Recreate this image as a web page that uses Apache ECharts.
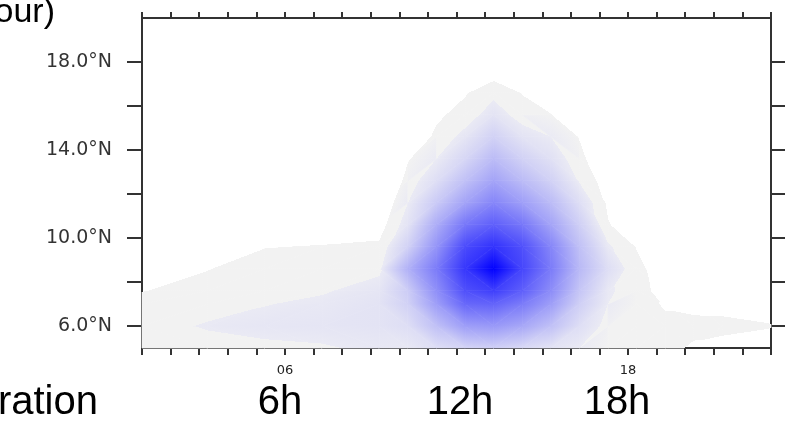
<!DOCTYPE html>
<html>
<head>
<meta charset="utf-8">
<script src="https://cdn.jsdelivr.net/npm/echarts@6/dist/echarts.min.js"></script>
<style>
html, body { margin: 0; padding: 0; background: #fff; }
#chart { width: 785px; height: 429px; }
</style>
</head>
<body>
<div id="chart"></div>
<script>
// grid of the field: hours (local time) and latitudes (°N)
var hours = [1, 3.3, 5.3, 7.3, 9.3, 10.3, 11.3, 12.3, 13.3, 14.3, 15.3, 16.3, 17.3, 18.3, 19.3, 20.3, 21.3, 23];
var lats = [5, 6, 7, 7.6, 8.6, 9.6, 10.6, 11.6, 12.6, 13.6, 14.6, 15.6, 16.6, 17.6, 18.6, 20];

// normalised rain rate, one row per latitude (below 0 = not shaded)
var rainRate = [
    [0.03, 0.03, 0.04, 0.045, 0.06, 0.06, 0.1, 0.14, 0.16, 0.12, 0.08, 0.05, 0.02, 0.015, 0.01, -0.005, -0.01, -0.02],
    [0.03, 0.055, 0.065, 0.07, 0.08, 0.1, 0.22, 0.36, 0.38, 0.32, 0.22, 0.1, 0.03, 0.02, 0.01, 0.01, 0.008, 0.002],
    [0.02, 0.03, 0.048, 0.06, 0.08, 0.15, 0.36, 0.58, 0.6, 0.5, 0.36, 0.16, 0.05, 0.02, -0.005, -0.01, -0.01, -0.02],
    [-0.002, 0.02, 0.04, 0.045, 0.07, 0.17, 0.42, 0.68, 0.75, 0.62, 0.43, 0.2, 0.06, 0.02, -0.02, -0.03, -0.03, -0.05],
    [-0.05, -0.002, 0.025, 0.03, 0.04, 0.28, 0.5, 0.78, 1.0, 0.72, 0.5, 0.25, 0.1, 0.015, -0.03, -0.1, -0.1, -0.1],
    [-0.1, -0.06, -0.002, 0.003, 0.01, 0.15, 0.4, 0.7, 0.8, 0.68, 0.46, 0.22, 0.06, -0.003, -0.06, -0.1, -0.1, -0.1],
    [-0.1, -0.1, -0.05, -0.03, -0.025, 0.08, 0.3, 0.52, 0.62, 0.52, 0.34, 0.16, 0.004, -0.04, -0.1, -0.1, -0.1, -0.1],
    [-0.1, -0.1, -0.1, -0.1, -0.05, 0.05, 0.18, 0.34, 0.46, 0.36, 0.24, 0.1, -0.01, -0.05, -0.1, -0.1, -0.1, -0.1],
    [-0.1, -0.1, -0.1, -0.1, -0.08, 0.02, 0.1, 0.22, 0.34, 0.24, 0.15, 0.045, -0.03, -0.1, -0.1, -0.1, -0.1, -0.1],
    [-0.1, -0.1, -0.1, -0.1, -0.1, -0.005, 0.05, 0.13, 0.24, 0.15, 0.09, 0.015, -0.05, -0.1, -0.1, -0.1, -0.1, -0.1],
    [-0.1, -0.1, -0.1, -0.1, -0.1, -0.05, 0.012, 0.07, 0.15, 0.08, 0.05, -0.003, -0.06, -0.1, -0.1, -0.1, -0.1, -0.1],
    [-0.1, -0.1, -0.1, -0.1, -0.1, -0.1, -0.01, 0.02, 0.08, 0.025, 0.002, -0.05, -0.1, -0.1, -0.1, -0.1, -0.1, -0.1],
    [-0.1, -0.1, -0.1, -0.1, -0.1, -0.1, -0.05, -0.005, 0.035, -0.003, -0.04, -0.1, -0.1, -0.1, -0.1, -0.1, -0.1, -0.1],
    [-0.1, -0.1, -0.1, -0.1, -0.1, -0.1, -0.1, -0.04, -0.03, -0.04, -0.1, -0.1, -0.1, -0.1, -0.1, -0.1, -0.1, -0.1],
    [-0.1, -0.1, -0.1, -0.1, -0.1, -0.1, -0.1, -0.1, -0.1, -0.1, -0.1, -0.1, -0.1, -0.1, -0.1, -0.1, -0.1, -0.1],
    [-0.1, -0.1, -0.1, -0.1, -0.1, -0.1, -0.1, -0.1, -0.1, -0.1, -0.1, -0.1, -0.1, -0.1, -0.1, -0.1, -0.1, -0.1]
];

var tickLats = [6, 8, 10, 12, 14, 16, 18];
var labelLats = [6, 10, 14, 18];
var labelHours = [6, 18];

// shading: flat grey lowest level, then grey-blue ramp up to pure blue
var greyTop = 0.05;

function colorAt(v) {
    if (v < 0) return 'rgba(255,255,255,0)';
    if (v < greyTop) return 'rgb(242,242,242)';
    var t = Math.min(1, (v - greyTop) / (1 - greyTop));
    var r = Math.round(234 * (1 - t));
    var b = Math.round(244 + 11 * t);
    return 'rgb(' + r + ',' + r + ',' + b + ')';
}

// split every grid cell in two triangles
var triangles = [];
for (var j = 0; j < lats.length - 1; j++) {
    for (var i = 0; i < hours.length - 1; i++) {
        var A = [hours[i], lats[j], rainRate[j][i]];
        var B = [hours[i + 1], lats[j], rainRate[j][i + 1]];
        var C = [hours[i + 1], lats[j + 1], rainRate[j + 1][i + 1]];
        var D = [hours[i], lats[j + 1], rainRate[j + 1][i]];
        var tris = Math.abs(A[2] - C[2]) <= Math.abs(B[2] - D[2])
            ? [[A, B, C], [A, C, D]]
            : [[A, B, D], [B, C, D]];
        tris.forEach(function (t) {
            if (Math.max(t[0][2], t[1][2], t[2][2]) >= 0) {
                triangles.push(t[0].concat(t[1], t[2]));
            }
        });
    }
}

function shade(p, v) {
    var vmin = Math.min(v[0], v[1], v[2]);
    var vmax = Math.max(v[0], v[1], v[2]);
    var span = vmax - vmin;
    if (span < 1e-9) return colorAt(vmin);
    var d1x = p[1][0] - p[0][0], d1y = p[1][1] - p[0][1];
    var d2x = p[2][0] - p[0][0], d2y = p[2][1] - p[0][1];
    var dv1 = v[1] - v[0], dv2 = v[2] - v[0];
    var det = d1x * d2y - d1y * d2x;
    if (Math.abs(det) < 1e-9) return colorAt(vmin);
    var a = (dv1 * d2y - dv2 * d1y) / det;
    var b = (d1x * dv2 - d2x * dv1) / det;
    var g2 = a * a + b * b;
    var k = v.indexOf(vmin);
    var sx = p[k][0], sy = p[k][1];
    var ex = sx + a * span / g2, ey = sy + b * span / g2;
    var stops = [{offset: 0, color: colorAt(vmin)}];
    [0, greyTop].forEach(function (e) {
        if (e > vmin && e < vmax) {
            var o = (e - vmin) / span;
            stops.push({offset: o, color: colorAt(e - 1e-6)});
            stops.push({offset: o, color: colorAt(e)});
        }
    });
    stops.push({offset: 1, color: colorAt(vmax)});
    return new echarts.graphic.LinearGradient(sx, sy, ex, ey, stops, true);
}

function renderTriangle(params, api) {
    var pts = [], vals = [];
    for (var n = 0; n < 3; n++) {
        pts.push(api.coord([api.value(n * 3), api.value(n * 3 + 1)]));
        vals.push(api.value(n * 3 + 2));
    }
    var fill = shade(pts, vals);
    return {
        type: 'polygon',
        shape: {points: pts},
        style: {fill: fill, stroke: fill, lineWidth: 0.7, lineJoin: 'round'}
    };
}

var frameColor = '#333';
var labelFont = 'DejaVu Sans';
var bigFont = '40px "Liberation Sans"';

var myChart = echarts.init(document.getElementById('chart'));

var option = {
    backgroundColor: '#fff',
    animation: false,
    grid: {left: 142, right: 14, top: 18, bottom: 81, containLabel: false},

    xAxis: [{
        type: 'value',
        position: 'bottom',
        min: 1,
        max: 23,
        interval: 1,
        axisLine: {show: true, onZero: false, lineStyle: {color: frameColor, width: 2}},
        axisTick: {show: true, inside: false, length: 7, lineStyle: {color: frameColor, width: 2}},
        axisLabel: {
            customValues: labelHours,
            margin: 16,
            fontFamily: labelFont,
            fontSize: 13,
            color: '#222',
            formatter: function (v) { return (v < 10 ? '0' : '') + v; }
        },
        splitLine: {show: false}
    }, {
        type: 'value',
        position: 'top',
        min: 1,
        max: 23,
        interval: 1,
        axisLine: {show: true, onZero: false, lineStyle: {color: frameColor, width: 2}},
        axisTick: {show: true, inside: false, length: 6, lineStyle: {color: frameColor, width: 2}},
        axisLabel: {show: false},
        splitLine: {show: false}
    }],

    yAxis: [{
        type: 'value',
        position: 'left',
        min: 5,
        max: 20,
        axisLine: {show: true, onZero: false, lineStyle: {color: frameColor, width: 2}},
        axisTick: {show: true, inside: false, length: 15, customValues: tickLats, lineStyle: {color: frameColor, width: 2}},
        axisLabel: {
            customValues: labelLats,
            margin: 30,
            fontFamily: labelFont,
            fontSize: 19,
            color: '#333',
            formatter: function (v) { return v.toFixed(1) + '°N'; }
        },
        splitLine: {show: false}
    }, {
        type: 'value',
        position: 'right',
        min: 5,
        max: 20,
        axisLine: {show: true, onZero: false, lineStyle: {color: frameColor, width: 2}},
        axisTick: {show: true, inside: false, length: 15, customValues: tickLats, lineStyle: {color: frameColor, width: 2}},
        axisLabel: {show: false},
        splitLine: {show: false}
    }],

    graphic: [
        {type: 'text', style: {text: 'our)', x: 55, y: 13, textAlign: 'right', textVerticalAlign: 'middle', font: '34px "Liberation Sans"', fill: '#000'}},
        {type: 'text', style: {text: 'ration', x: 98, y: 403, textAlign: 'right', textVerticalAlign: 'middle', font: bigFont, fill: '#000'}},
        {type: 'text', style: {text: '6h', x: 280, y: 403, textAlign: 'center', textVerticalAlign: 'middle', font: bigFont, fill: '#000'}},
        {type: 'text', style: {text: '12h', x: 460, y: 403, textAlign: 'center', textVerticalAlign: 'middle', font: bigFont, fill: '#000'}},
        {type: 'text', style: {text: '18h', x: 617, y: 403, textAlign: 'center', textVerticalAlign: 'middle', font: bigFont, fill: '#000'}}
    ],

    series: [{
        type: 'custom',
        coordinateSystem: 'cartesian2d',
        silent: true,
        encode: {x: [0, 3, 6], y: [1, 4, 7]},
        renderItem: renderTriangle,
        data: triangles,
        z: 1
    }]
};

myChart.setOption(option);
</script>
</body>
</html>
